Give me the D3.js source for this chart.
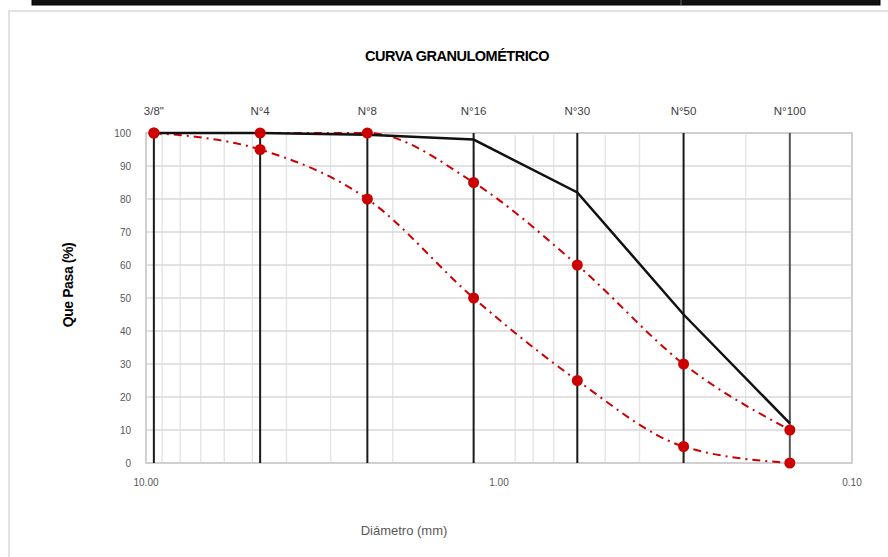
<!DOCTYPE html>
<html lang="es">
<head>
<meta charset="UTF-8">
<title>Curva granulométrica</title>
<style>
  body { margin: 0; background: #fff; overflow: hidden; }
  svg text { font-family: "Liberation Sans", "DejaVu Sans", sans-serif; }
</style>
</head>
<body>
<div id="container"></div>
<script src="https://d3js.org/d3.v7.min.js"></script>
<script>
// sieves and their openings (mm)
var sieves = ["3/8\"", "N°4", "N°8", "N°16", "N°30", "N°50", "N°100"];
var openings = [9.5, 4.75, 2.36, 1.18, 0.6, 0.3, 0.15];

// % passing
var upperLimit = [100, 100, 100, 85, 60, 30, 10];
var lowerLimit = [100, 95, 80, 50, 25, 5, 0];
var sample = [100, 100, 99.5, 98, 82, 45, 12];

var yTicks = [0, 10, 20, 30, 40, 50, 60, 70, 80, 90, 100];
var xTickValues = [10, 1, 0.1];

var width = 888, height = 557;
var svg = d3.select("#container").append("svg")
    .attr("width", width)
    .attr("height", height);

// bit of the table above the chart
svg.append("rect").attr("x", 32).attr("y", -4).attr("width", 848).attr("height", 9)
    .attr("fill", "#111").attr("stroke", "#000");
svg.append("line").attr("x1", 681).attr("x2", 681).attr("y1", 0).attr("y2", 5)
    .attr("stroke", "#666");

// chart frame
svg.append("rect").attr("x", 9).attr("y", 11).attr("width", 900).attr("height", 560)
    .attr("fill", "#fff").attr("stroke", "#d9d9d9").attr("stroke-width", 1.5);

var x = d3.scaleLog().domain([10, 0.1]).range([146, 852]);
var y = d3.scaleLinear().domain([0, 100]).range([463, 133]);

// minor log gridlines
var minor = [];
[10, 1].forEach(function (dec) {
    for (var k = 2; k <= 9; k++) minor.push(dec * k / 10);
});
svg.append("g").selectAll("line").data(minor).enter().append("line")
    .attr("x1", function (d) { return x(d); })
    .attr("x2", function (d) { return x(d); })
    .attr("y1", y(100)).attr("y2", y(0))
    .attr("stroke", "#e6e6e6").attr("stroke-width", 1.5);

// horizontal gridlines
svg.append("g").selectAll("line").data(yTicks).enter().append("line")
    .attr("x1", x(10)).attr("x2", x(0.1))
    .attr("y1", function (d) { return y(d); })
    .attr("y2", function (d) { return y(d); })
    .attr("stroke", "#d9d9d9").attr("stroke-width", 1.5);

// plot border
svg.append("rect").attr("x", x(10)).attr("y", y(100))
    .attr("width", x(0.1) - x(10)).attr("height", y(0) - y(100))
    .attr("fill", "none").attr("stroke", "#d0d0d0").attr("stroke-width", 2);

// y axis labels
svg.append("g").selectAll("text").data(yTicks).enter().append("text")
    .attr("x", 131).attr("y", function (d) { return y(d); })
    .attr("dy", "0.35em").attr("text-anchor", "end")
    .attr("font-size", 10).attr("fill", "#595959")
    .text(function (d) { return d; });

// x axis labels
svg.append("g").selectAll("text").data(xTickValues).enter().append("text")
    .attr("x", function (d) { return x(d); }).attr("y", 486)
    .attr("text-anchor", "middle")
    .attr("font-size", 10).attr("fill", "#595959")
    .text(function (d) { return d3.format(".2f")(d); });

// sieve lines
svg.append("g").selectAll("line").data(openings).enter().append("line")
    .attr("x1", function (d) { return x(d); })
    .attr("x2", function (d) { return x(d); })
    .attr("y1", y(100)).attr("y2", y(0))
    .attr("stroke", function (d, i) { return i === openings.length - 1 ? "#555" : "#1a1a1a"; })
    .attr("stroke-width", 2);

// sieve labels
svg.append("g").selectAll("text").data(sieves).enter().append("text")
    .attr("x", function (d, i) { return x(openings[i]); }).attr("y", 115)
    .attr("text-anchor", "middle")
    .attr("font-size", 11.5).attr("fill", "#404040")
    .text(function (d) { return d; });

// limit curves (smoothed, dash-dot)
var curveLine = d3.line()
    .x(function (d, i) { return x(openings[i]); })
    .y(function (d) { return y(d); })
    .curve(d3.curveMonotoneX);

[upperLimit, lowerLimit].forEach(function (series) {
    svg.append("path").datum(series)
        .attr("d", curveLine)
        .attr("fill", "none")
        .attr("stroke", "#cc0000")
        .attr("stroke-width", 2)
        .attr("stroke-dasharray", "8,5,2,5");
});

// sample curve
var straightLine = d3.line()
    .x(function (d, i) { return x(openings[i]); })
    .y(function (d) { return y(d); });

svg.append("path").datum(sample)
    .attr("d", straightLine)
    .attr("fill", "none")
    .attr("stroke", "#111")
    .attr("stroke-width", 2.5);

// markers
[upperLimit, lowerLimit].forEach(function (series) {
    svg.append("g").selectAll("circle").data(series).enter().append("circle")
        .attr("cx", function (d, i) { return x(openings[i]); })
        .attr("cy", function (d) { return y(d); })
        .attr("r", 5.5)
        .attr("fill", "#cc0000");
});

// titles
svg.append("text").attr("x", 457).attr("y", 61)
    .attr("text-anchor", "middle")
    .attr("font-size", 14.5).attr("font-weight", "bold")
    .attr("letter-spacing", -0.5).attr("fill", "#000")
    .text("CURVA GRANULOMÉTRICO");

svg.append("text")
    .attr("transform", "translate(73,285) rotate(-90)")
    .attr("text-anchor", "middle")
    .attr("font-size", 14).attr("font-weight", "bold")
    .attr("letter-spacing", -0.4).attr("fill", "#000")
    .text("Que Pasa (%)");

svg.append("text").attr("x", 404).attr("y", 535)
    .attr("text-anchor", "middle")
    .attr("font-size", 13).attr("fill", "#595959")
    .text("Diámetro (mm)");
</script>
</body>
</html>
